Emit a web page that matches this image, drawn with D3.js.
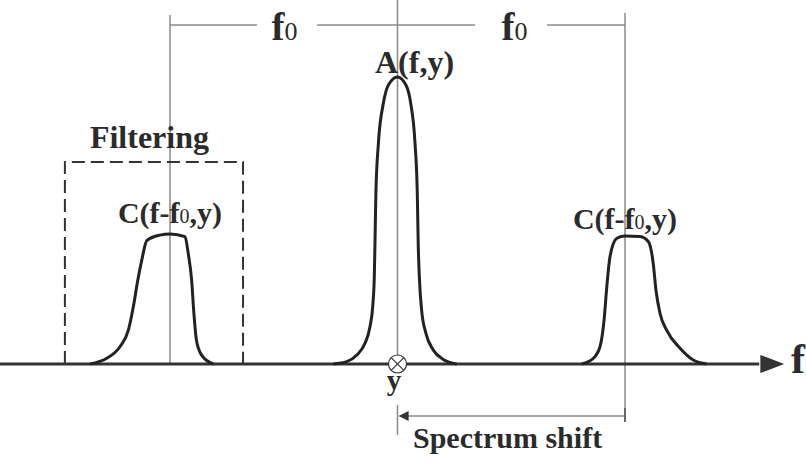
<!DOCTYPE html>
<html>
<head>
<meta charset="utf-8">
<script src="https://cdn.jsdelivr.net/npm/d3@7"></script>
<style>
  body { margin: 0; background: #fff; }
  svg text { font-family: "Liberation Serif", "DejaVu Serif", serif; font-weight: bold; fill: #2b2b2b; }
</style>
</head>
<body>
<svg id="chart" width="806" height="464"></svg>
<script>
// spectrum curves, f in units of f0, amplitude relative to A peak
var peakA_f = [-0.282, -0.223, -0.179, -0.143, -0.121, -0.109, -0.102, -0.099, -0.095, -0.084, -0.062, -0.040, 0.000,
               0.037, 0.058, 0.077, 0.087, 0.091, 0.096, 0.106, 0.125, 0.157, 0.201, 0.260];
var peakA_a = [0, 0.008, 0.031, 0.072, 0.130, 0.200, 0.304, 0.420, 0.595, 0.769, 0.909, 0.972, 1.000,
               0.972, 0.909, 0.769, 0.595, 0.420, 0.304, 0.188, 0.107, 0.049, 0.016, 0];

var peakCl_f = [-1.352, -1.278, -1.220, -1.183, -1.161, -1.144, -1.124, -1.102, -1.044, -1.000, -0.934,
                -0.920, -0.905, -0.895, -0.884, -0.861, -0.810];
var peakCl_a = [0, 0.020, 0.060, 0.118, 0.200, 0.281, 0.362, 0.430, 0.449, 0.453, 0.444,
                0.386, 0.293, 0.177, 0.084, 0.031, 0];

var peakCr_f = [0.810, 0.861, 0.890, 0.908, 0.920, 0.934, 0.964, 1.000, 1.066, 1.103, 1.124, 1.136,
                1.154, 1.183, 1.242, 1.300, 1.359];
var peakCr_a = [0, 0.020, 0.060, 0.153, 0.269, 0.374, 0.438, 0.446, 0.444, 0.426, 0.351, 0.258,
                0.176, 0.118, 0.055, 0.014, 0];

var filterBox = {f1: -1.462, f2: -0.679, top: 0.704};
var labels = ["A(f,y)", "Filtering", "Spectrum shift", "f", "y"];

var svg = d3.select("#chart");
var x = d3.scaleLinear().domain([-1, 1]).range([170, 625]);
var y = d3.scaleLinear().domain([0, 1]).range([364, 77]);

var line = d3.line()
    .x(function (d) { return x(d[0]); })
    .y(function (d) { return y(d[1]); })
    .curve(d3.curveMonotoneX);

var guide = "#8a8a8a";

// vertical guide lines at -f0, 0, +f0
svg.append("line").attr("x1", x(-1)).attr("x2", x(-1)).attr("y1", y(1.216)).attr("y2", y(0))
    .attr("stroke", guide).attr("stroke-width", 1.5);
svg.append("line").attr("x1", x(0)).attr("x2", x(0)).attr("y1", y(1.27)).attr("y2", y(0))
    .attr("stroke", guide).attr("stroke-width", 1.5);
svg.append("line").attr("x1", x(1)).attr("x2", x(1)).attr("y1", y(1.223)).attr("y2", y(-0.202))
    .attr("stroke", guide).attr("stroke-width", 1.5);

// top f0 spacing line with gaps for labels
[[-1, -0.618], [-0.354, 0.341], [0.657, 1]].forEach(function (s) {
    svg.append("line").attr("x1", x(s[0])).attr("x2", x(s[1])).attr("y1", y(1.181)).attr("y2", y(1.181))
        .attr("stroke", guide).attr("stroke-width", 1.5);
});
[-0.497, 0.514].forEach(function (c) {
    var t = svg.append("text").attr("x", x(c)).attr("y", y(1.129)).attr("text-anchor", "middle")
        .style("font-size", "39px");
    t.append("tspan").text("f");
    t.append("tspan").text("0").style("font-size", "26px").style("font-weight", "normal");
});

// filter window
svg.append("path")
    .attr("d", "M" + x(filterBox.f1) + "," + y(0) + "V" + y(filterBox.top) + "H" + x(filterBox.f2) + "V" + y(0))
    .attr("fill", "none").attr("stroke", "#333").attr("stroke-width", 2).attr("stroke-dasharray", "13,6");

// frequency axis with arrow
svg.append("line").attr("x1", 0).attr("x2", x(1.59)).attr("y1", y(0)).attr("y2", y(0))
    .attr("stroke", "#333").attr("stroke-width", 3);
svg.append("path")
    .attr("d", "M" + x(1.595) + "," + (y(0) - 9) + "L" + x(1.7) + "," + y(0) + "L" + x(1.595) + "," + (y(0) + 9) + "Z")
    .attr("fill", "#333");
svg.append("text").attr("x", x(1.73)).attr("y", y(-0.032)).style("font-size", "42px").text(labels[3]);

// spectra
[[peakA_f, peakA_a], [peakCl_f, peakCl_a], [peakCr_f, peakCr_a]].forEach(function (p) {
    var pts = d3.zip(p[0], p[1]);
    svg.append("path").attr("d", line(pts)).attr("fill", "none")
        .attr("stroke", "#222").attr("stroke-width", 3).attr("stroke-linejoin", "round");
});

// y marker (circle with cross)
var r = 9, cx = x(0), cy = y(0), k = r * Math.SQRT1_2;
svg.append("circle").attr("cx", cx).attr("cy", cy).attr("r", r).attr("fill", "#fff")
    .attr("stroke", "#333").attr("stroke-width", 1.2);
svg.append("path").attr("d", "M" + (cx - k) + "," + (cy - k) + "L" + (cx + k) + "," + (cy + k) +
    "M" + (cx + k) + "," + (cy - k) + "L" + (cx - k) + "," + (cy + k))
    .attr("stroke", "#333").attr("stroke-width", 1.2);
svg.append("text").attr("x", x(-0.015)).attr("y", y(-0.091)).attr("text-anchor", "middle")
    .style("font-size", "29px").text(labels[4]);

// spectrum shift arrow
svg.append("line").attr("x1", x(0)).attr("x2", x(0)).attr("y1", y(-0.143)).attr("y2", y(-0.247))
    .attr("stroke", guide).attr("stroke-width", 1.5);
svg.append("line").attr("x1", x(0.01)).attr("x2", x(1)).attr("y1", y(-0.181)).attr("y2", y(-0.181))
    .attr("stroke", guide).attr("stroke-width", 1.5);
svg.append("line").attr("x1", x(1)).attr("x2", x(1)).attr("y1", y(-0.153)).attr("y2", y(-0.202))
    .attr("stroke", "#555").attr("stroke-width", 1.5);
svg.append("path")
    .attr("d", "M" + x(0.005) + "," + y(-0.181) + "l10,-5v10Z").attr("fill", "#333");
svg.append("text").attr("x", x(0.068)).attr("y", y(-0.293))
    .style("font-size", "30px").text(labels[2]);

// curve labels
svg.append("text").attr("x", x(-0.099)).attr("y", y(1.014))
    .style("font-size", "32px").text(labels[0]);
svg.append("text").attr("x", x(-1.352)).attr("y", y(0.753))
    .style("font-size", "32px").text(labels[1]);

function cLabel(fStart, a) {
    var t = svg.append("text").attr("x", x(fStart)).attr("y", y(a))
        .style("font-size", "30px");
    t.append("tspan").text("C(f-f");
    t.append("tspan").text("0").style("font-size", "20px").style("font-weight", "normal");
    t.append("tspan").text(",y)");
}
cLabel(-1.229, 0.491);
cLabel(0.771, 0.470);
</script>
</body>
</html>
